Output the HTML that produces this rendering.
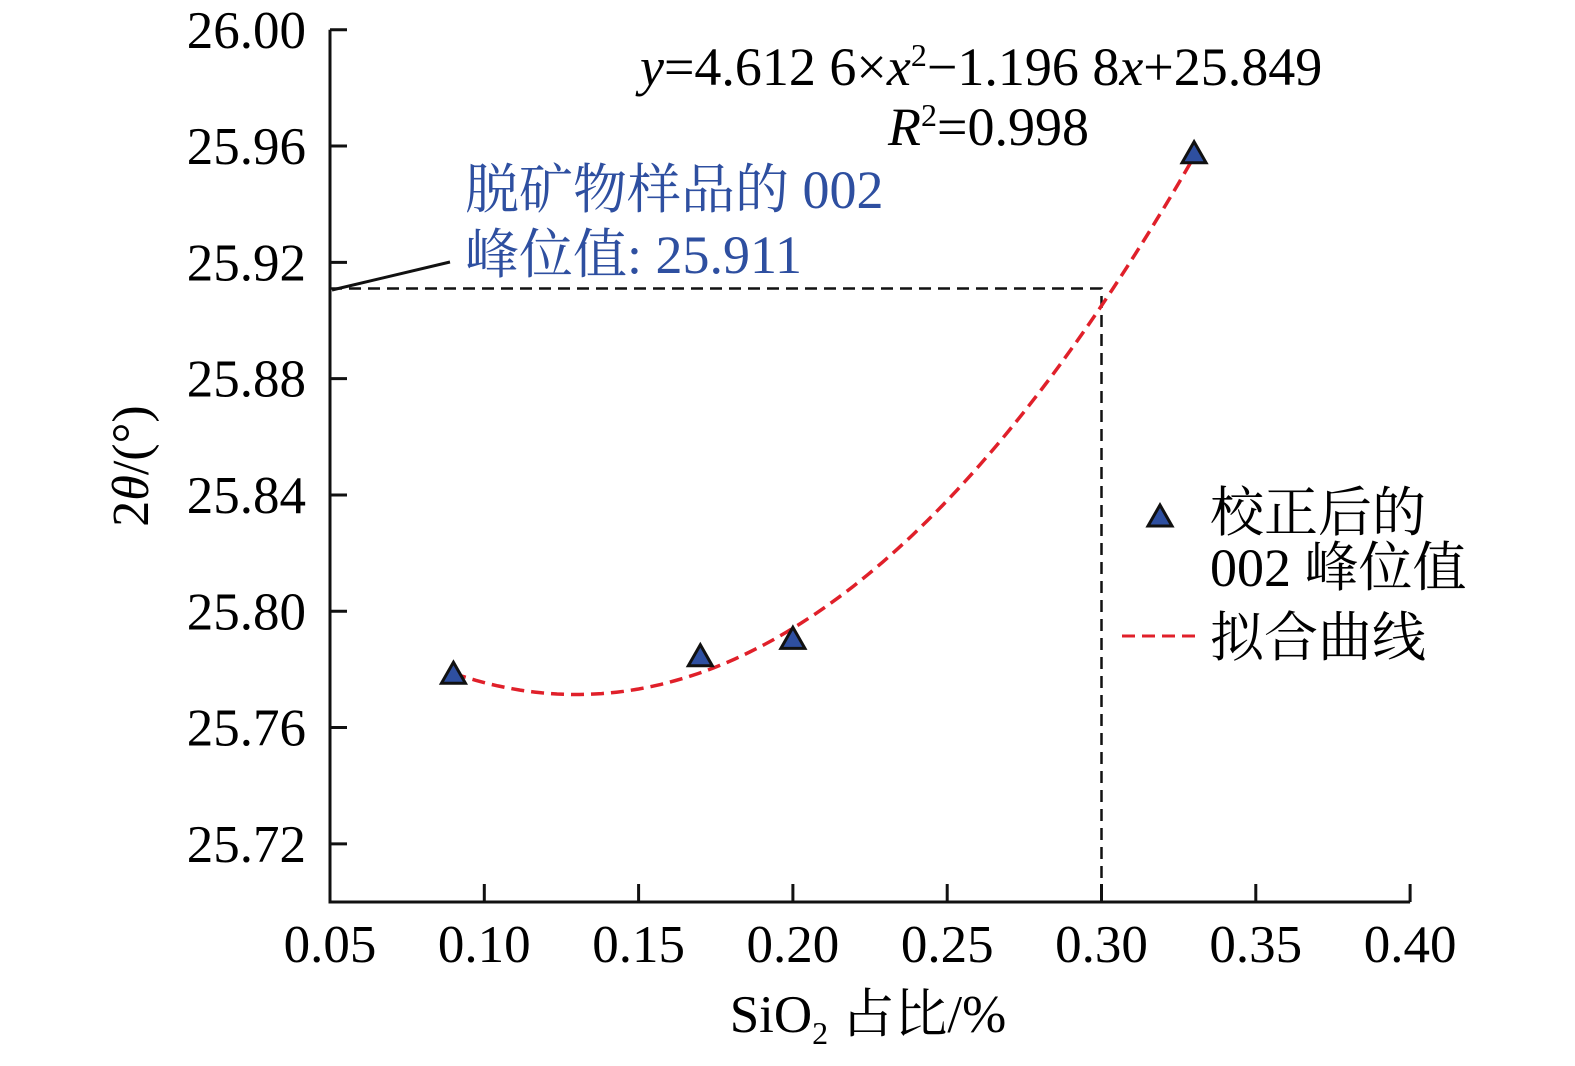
<!DOCTYPE html>
<html><head><meta charset="utf-8"><style>
body{margin:0;background:#fff;}
svg{display:block;font-family:"Liberation Serif","Noto Serif CJK SC",serif;}
</style></head><body>
<svg width="1575" height="1066" viewBox="0 0 1575 1066">
<g id="axes"></g>
<g id="marks"></g>
<text x="640" y="85" font-size="54"><tspan font-style="italic">y</tspan>=4.612 6×<tspan font-style="italic">x</tspan><tspan dy="-19" font-size="32">2</tspan><tspan dy="19">−1.196 8</tspan><tspan font-style="italic">x</tspan>+25.849</text>
<text x="888" y="145" font-size="54"><tspan font-style="italic">R</tspan><tspan dy="-19" font-size="32">2</tspan><tspan dy="19">=0.998</tspan></text>
<text x="465" y="208" font-size="54" fill="#2e4fa0">脱矿物样品的 002</text>
<text x="465" y="273" font-size="54" fill="#2e4fa0">峰位值: 25.911</text>
<line x1="332" y1="290" x2="450" y2="262" stroke="#111" stroke-width="3"/>
<text x="148" y="466" font-size="52" transform="rotate(-90 148 466)" text-anchor="middle">2<tspan font-style="italic">θ</tspan>/(°)</text>
<text x="868" y="1032" font-size="53" text-anchor="middle">SiO<tspan dy="12" font-size="32">2</tspan><tspan dy="-12"> 占比/%</tspan></text>
<g>
<polygon points="1160,505 1172,526 1148,526" fill="#2e4fa0" stroke="#111" stroke-width="3"/>
<text x="1210" y="531" font-size="54">校正后的</text>
<text x="1210" y="586" font-size="54">002 峰位值</text>
<line x1="1122" y1="636" x2="1198" y2="636" stroke="#e0202a" stroke-width="3" stroke-dasharray="13,7"/>
<text x="1210" y="656" font-size="54">拟合曲线</text>
</g>
</svg>
<script>
const xTicks=[0.05,0.10,0.15,0.20,0.25,0.30,0.35,0.40];
const xTickLabels=["0.05","0.10","0.15","0.20","0.25","0.30","0.35","0.40"];
const yTicks=[25.72,25.76,25.80,25.84,25.88,25.92,25.96,26.00];
const yTickLabels=["25.72","25.76","25.80","25.84","25.88","25.92","25.96","26.00"];
const xs=[0.09,0.17,0.20,0.33];
const ys=[25.778,25.784,25.790,25.957];
const coef=[4.6126,-1.1968,25.849];
const fitRange=[0.09,0.33];
const refY=25.911, refX=0.30;
const NS="http://www.w3.org/2000/svg";
const X=v=>330+(v-0.05)/0.05*154.3;
const Y=v=>902-(v-25.70)/0.04*116.3;
function mk(t,a,p){const e=document.createElementNS(NS,t);for(const k in a)e.setAttribute(k,a[k]);p.appendChild(e);return e;}
const ax=document.getElementById('axes'),mg=document.getElementById('marks');
let e=mk('path',{d:`M330,${Y(26)} V902 H${X(0.40)}`,fill:'none',stroke:'#111','stroke-width':3},ax);

xTicks.forEach((v,i)=>{
 if(i>0){let t=mk('line',{x1:X(v),x2:X(v),y1:902,y2:884,stroke:'#111','stroke-width':3},ax);
 }
 let l=mk('text',{x:X(v),y:962,'font-size':53,'text-anchor':'middle'},ax);l.textContent=xTickLabels[i];
 
});
yTicks.forEach((v,i)=>{
 let t=mk('line',{x1:330,x2:347,y1:Y(v),y2:Y(v),stroke:'#111','stroke-width':3},ax);
 
 let l=mk('text',{x:306,y:Y(v)+18,'font-size':53,'text-anchor':'end'},ax);l.textContent=yTickLabels[i];
 
});
let h=mk('path',{d:`M330,${Y(refY)} H${X(refX)} V902`,fill:'none',stroke:'#111','stroke-width':2.5,'stroke-dasharray':'12,7'},mg);

let d='';for(let i=0;i<=100;i++){const x=fitRange[0]+(fitRange[1]-fitRange[0])*i/100;const y=coef[0]*x*x+coef[1]*x+coef[2];d+=(i?'L':'M')+X(x).toFixed(1)+','+Y(y).toFixed(1);}
let c=mk('path',{d:d,fill:'none',stroke:'#e0202a','stroke-width':3.5,'stroke-dasharray':'13,7'},mg);

xs.forEach((x,i)=>{const px=X(x),py=Y(ys[i]);
 let p=mk('polygon',{points:`${px},${py-13} ${px+12},${py+8} ${px-12},${py+8}`,fill:'#2e4fa0',stroke:'#111','stroke-width':3},mg);
 });
</script>
</body></html>
